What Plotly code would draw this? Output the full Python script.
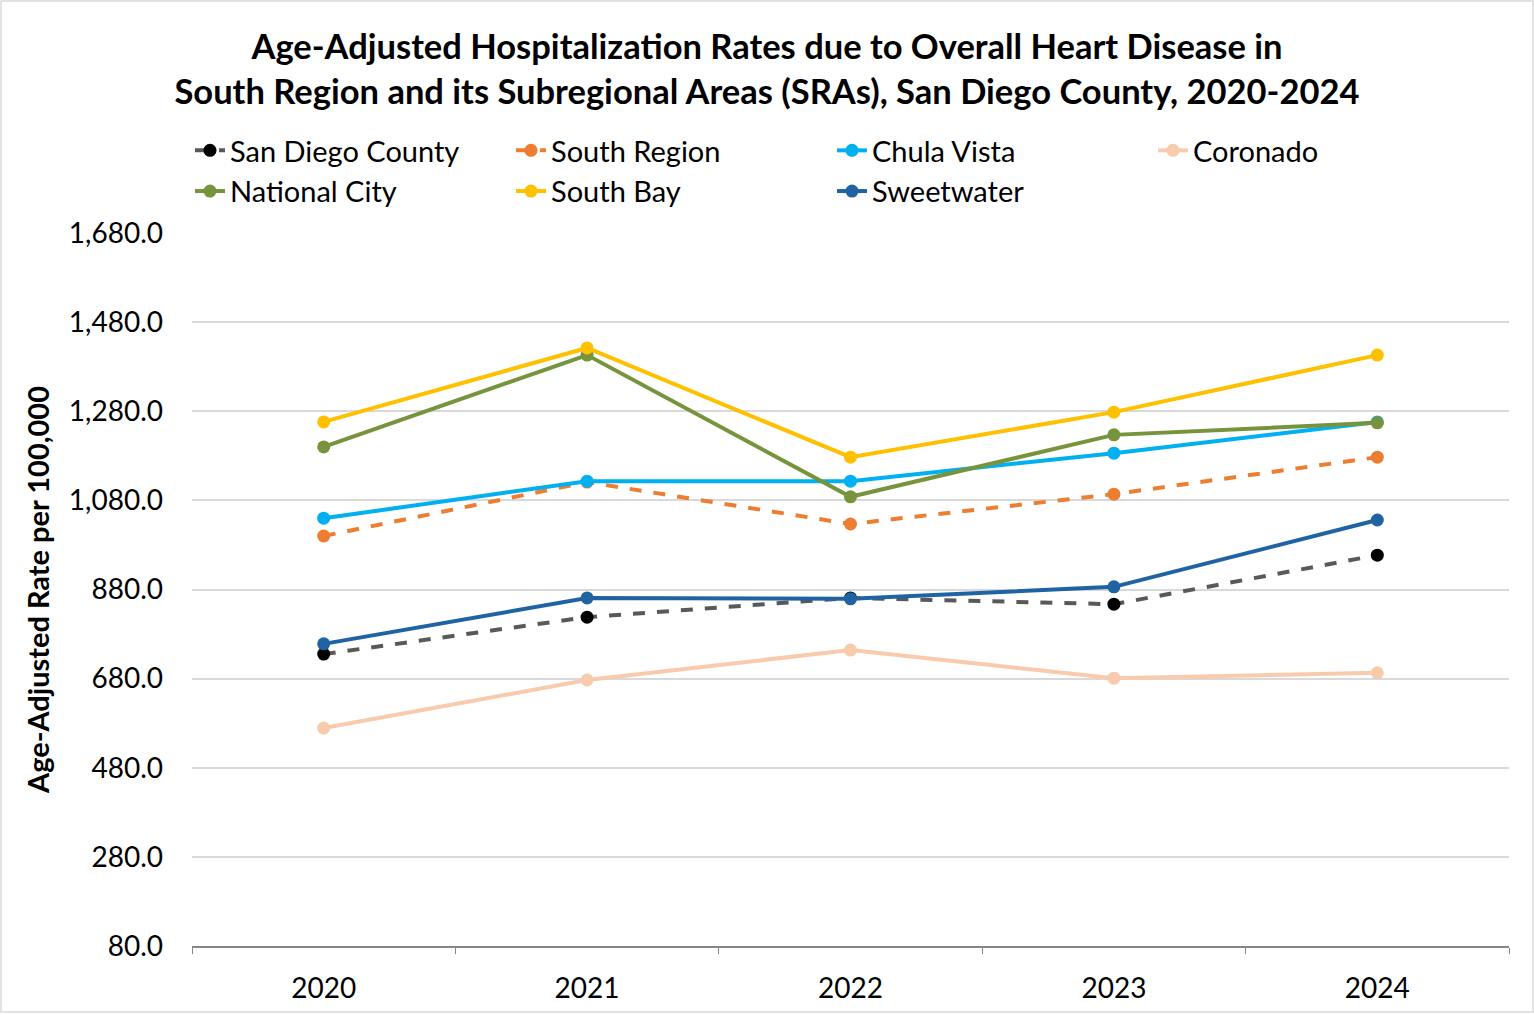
import plotly.graph_objects as go

years = ["2020", "2021", "2022", "2023", "2024"]

san_diego_county = [735, 818, 861, 847, 957]
south_region = [1000, 1121, 1027, 1094, 1177]
chula_vista = [1040, 1123, 1123, 1186, 1256]
coronado = [569, 677, 744, 681, 693]
national_city = [1200, 1406, 1088, 1227, 1254]
south_bay = [1256, 1422, 1177, 1278, 1406]
sweetwater = [758, 861, 859, 886, 1036]

y_ticks = [80, 280, 480, 680, 880, 1080, 1280, 1480, 1680]

series = [
    ("San Diego County", san_diego_county, "#595959", "#000000", "dash"),
    ("South Region", south_region, "#ED7D31", "#ED7D31", "dash"),
    ("Chula Vista", chula_vista, "#00B0F0", "#00B0F0", "solid"),
    ("Coronado", coronado, "#F8CBAD", "#F8CBAD", "solid"),
    ("National City", national_city, "#77933C", "#77933C", "solid"),
    ("South Bay", south_bay, "#FFC000", "#FFC000", "solid"),
    ("Sweetwater", sweetwater, "#1F63A3", "#1F63A3", "solid"),
]

FONT = "Lato"
W, H = 1534, 1015
L, R, T, B = 192, 25, 233, 69
PW, PH = W - L - R, H - T - B

fig = go.Figure()
for name, vals, lc, mc, dash in series:
    fig.add_trace(go.Scatter(
        x=years, y=vals, name=name, mode="lines+markers",
        line=dict(color=lc, width=4, dash=dash),
        marker=dict(color=mc, size=13),
    ))

fig.update_layout(
    width=W, height=H,
    paper_bgcolor="white", plot_bgcolor="white",
    margin=dict(l=L, r=R, t=T, b=B, autoexpand=False),
    font=dict(family=FONT, color="#000000", size=28),
    title=dict(
        text="<b>Age-Adjusted Hospitalization Rates due to Overall Heart Disease in<br>South Region and its Subregional Areas (SRAs), San Diego County, 2020-2024</b>",
        x=0.5, xanchor="center", xref="container", y=1 - 59 / H, yanchor="top", yref="container",
        font=dict(family=FONT, size=34.5, color="#000000"),
    ),
    legend=dict(
        orientation="h", x=(190 - L) / PW, xanchor="left", y=1 + (T - 125) / PH, yanchor="top",
        entrywidth=276, entrywidthmode="pixels",
        font=dict(family=FONT, size=29, color="#000000"),
        itemwidth=30, tracegroupgap=0,
    ),
    showlegend=True,
)

fig.update_xaxes(
    type="category", range=[-0.5, 4.5],
    tickson="boundaries", ticks="outside", ticklen=6, tickcolor="#868686",
    showline=True, linecolor="#868686", linewidth=1.5,
    showgrid=False, tickfont=dict(family=FONT, size=28),
    ticklabelstandoff=17,
)
fig.update_yaxes(
    range=[80, 1680], tickvals=y_ticks, tickformat=",.1f",
    showgrid=True, gridcolor="#D9D9D9", gridwidth=1.5,
    showline=False, zeroline=False, ticks="",
    tickfont=dict(family=FONT, size=28),
    ticklabelstandoff=28,
    title=dict(text="<b>Age-Adjusted Rate per 100,000</b>", font=dict(family=FONT, size=29), standoff=10),
)

fig.add_shape(type="rect", xref="paper", yref="paper",
              x0=-(L - 1) / PW, x1=1 + (R - 1) / PW, y0=-(B - 3) / PH, y1=1 + (T - 1) / PH,
              line=dict(color="#D9D9D9", width=1.5), fillcolor="rgba(0,0,0,0)", layer="below")

fig.write_html("out.html", config={"displayModeBar": False},
               post_script="document.body.style.margin='0';document.body.style.overflow='hidden';")
